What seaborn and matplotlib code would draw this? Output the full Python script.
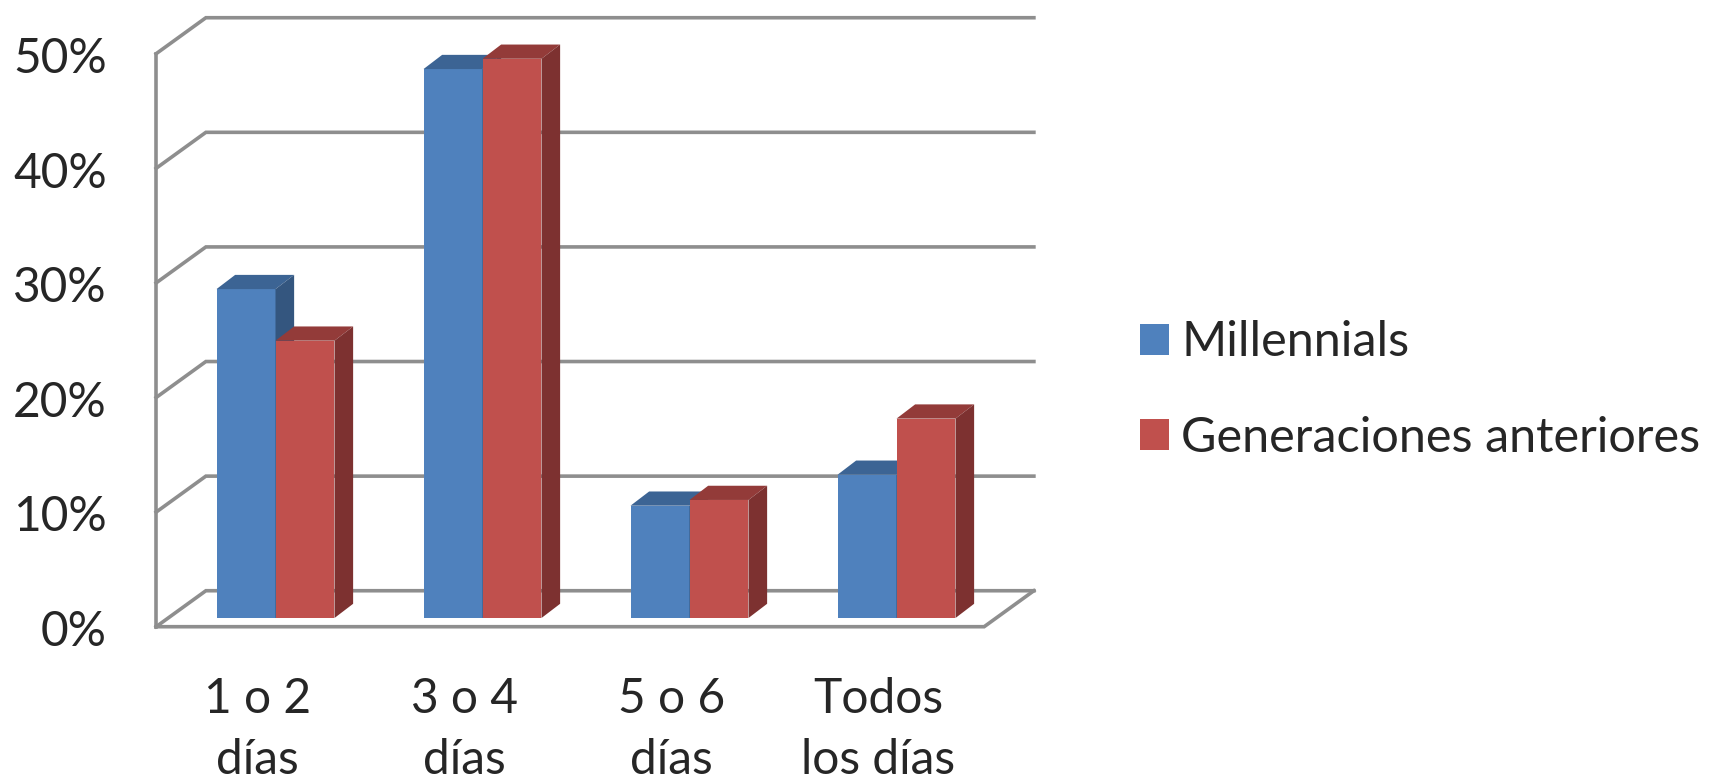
import matplotlib
matplotlib.use("Agg")
import matplotlib.pyplot as plt
from matplotlib.patches import Polygon
from matplotlib.transforms import Affine2D
import pandas as pd
import seaborn as sns

# Survey shares, in percent
categories = ["1 o 2\ndías", "3 o 4\ndías", "5 o 6\ndías", "Todos\nlos días"]
millennials = [28.7, 47.9, 9.8, 12.5]
generaciones_anteriores = [24.2, 48.8, 10.3, 17.4]
y_ticks = [0, 10, 20, 30, 40, 50]
series_names = ["Millennials", "Generaciones anteriores"]

FACE = {"Millennials": "#4F81BD", "Generaciones anteriores": "#C0504D"}
TOP = {"Millennials": "#3C6494", "Generaciones anteriores": "#933B39"}
SIDE = {"Millennials": "#34567F", "Generaciones anteriores": "#7D3130"}
GRID = "#8E8E8E"
TEXT = "#262626"
FONT_SIZE = 34.5

sns.set_theme(style="white")
plt.rcParams["font.family"] = ["Lato", "DejaVu Sans"]

W, H = 1712, 779
fig = plt.figure(figsize=(W / 100, H / 100), dpi=100, facecolor="white")
ax = fig.add_axes([172 / W, 1 - 618 / H, 828 / W, 573 / H])

table = pd.DataFrame({
    "categoria": categories * 2,
    "valor": millennials + generaciones_anteriores,
    "serie": [series_names[0]] * 4 + [series_names[1]] * 4,
})
sns.barplot(data=table, x="categoria", y="valor", hue="serie",
            hue_order=series_names, palette=FACE, width=0.57, gap=0,
            saturation=1, linewidth=0, ax=ax, legend=True)

ax.set_xlim(-0.5, 3.5)
ax.set_ylim(0, 50)
ax.set_xlabel("")
ax.set_ylabel("")
ax.set_yticks(y_ticks, [f"{t}%" for t in y_ticks])
sns.despine(ax=ax, left=True, bottom=True, top=True, right=True)
ax.patch.set_alpha(0)

# Pseudo-3D depth, expressed in data units of each axis
bar_dx, bar_dy = 0.090, 1.24
front_dx, front_dy = -0.0766, -0.76
back_dx, back_dy = 0.1637, 2.38
x0, x1 = -0.5, 3.5


def wall_line(xs, ys, **kw):
    ax.plot(xs, ys, color=GRID, clip_on=False, zorder=1,
            solid_capstyle="projecting", solid_joinstyle="miter", **kw)


# Gridlines run along the back wall and slant forward on the left wall
for t in y_ticks:
    wall_line([x0 + front_dx, x0 + back_dx, x1 + back_dx],
              [t + front_dy, t + back_dy, t + back_dy], lw=2.6)
wall_line([x0 + front_dx, x0 + front_dx],
          [front_dy, y_ticks[-1] + front_dy], lw=2.6)
# Floor outline
wall_line([x0 + front_dx, x1 + front_dx, x1 + back_dx],
          [front_dy, front_dy, back_dy], lw=2.6)

# Extrude every bar: top and right faces stacked just above its front face
for level, (name, container) in enumerate(zip(series_names, ax.containers)):
    for bar in container:
        bar.set_zorder(2 + level)
        bar.set_antialiased(False)
        l, w, h = bar.get_x(), bar.get_width(), bar.get_height()
        r = l + w
        ax.add_patch(Polygon(
            [(l, h), (r, h), (r + bar_dx, h + bar_dy), (l + bar_dx, h + bar_dy)],
            closed=True, facecolor=TOP[name], edgecolor="none",
            clip_on=False, zorder=2.1 + level))
        ax.add_patch(Polygon(
            [(r, 0), (r + bar_dx, bar_dy), (r + bar_dx, h + bar_dy), (r, h)],
            closed=True, facecolor=SIDE[name], edgecolor="none",
            clip_on=False, zorder=2.1 + level))

# Tick labels sit on the front plane of the box, not the plane of the bars
ax.tick_params(axis="both", length=0, labelsize=FONT_SIZE, labelcolor=TEXT)
ax.tick_params(axis="y", pad=34)
ax.tick_params(axis="x", pad=35)
shift = Affine2D().translate(-18, -10)
for lab in ax.get_xticklabels() + ax.get_yticklabels():
    lab.set_transform(lab.get_transform() + shift)
    lab.set_linespacing(1.48)

sns.move_legend(ax, "center left", bbox_to_anchor=(1140 / W, 1 - 390 / H),
                bbox_transform=fig.transFigure, frameon=False, title=None,
                fontsize=35, labelcolor=TEXT, handlelength=0.6,
                handleheight=0.6, handletextpad=0.25, labelspacing=1.06,
                borderpad=0, borderaxespad=0)

fig.savefig("out.png", dpi=100, facecolor="white")
